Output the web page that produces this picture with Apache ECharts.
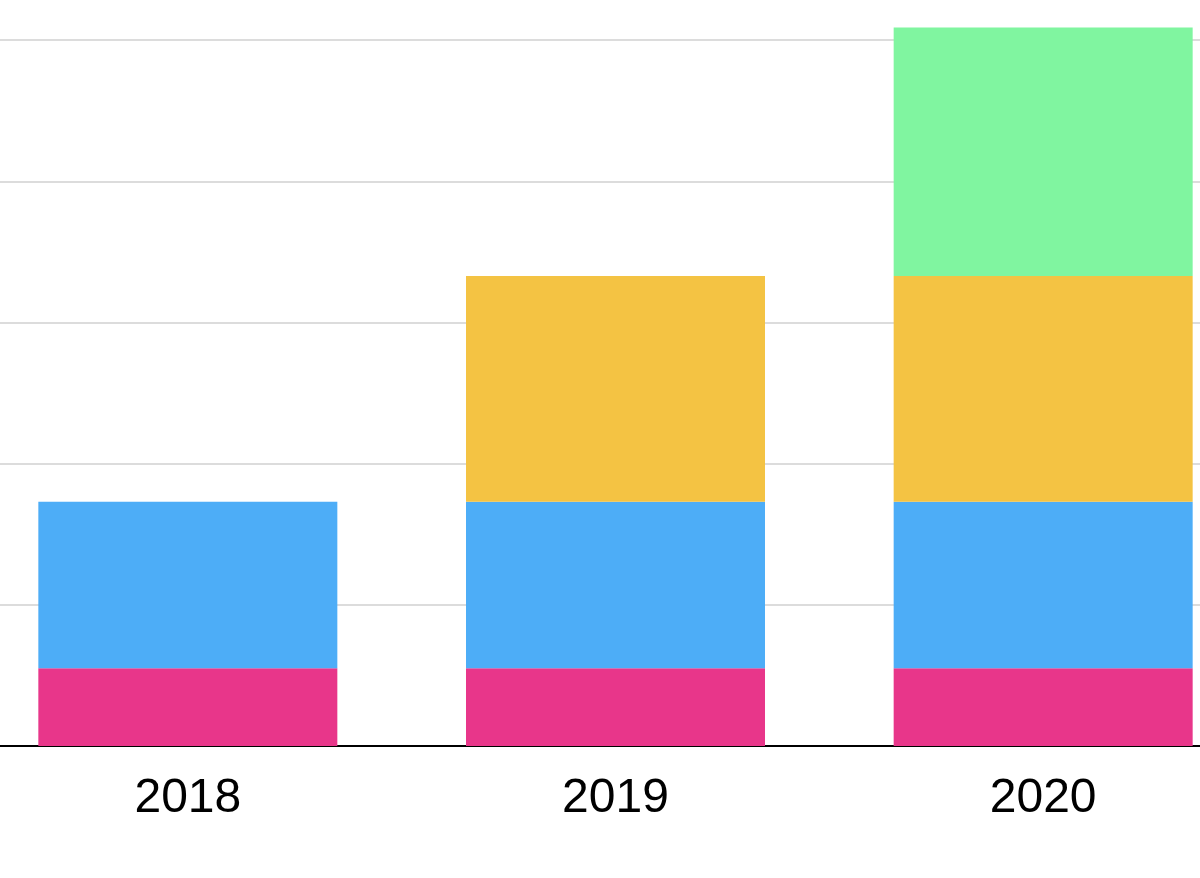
<!DOCTYPE html>
<html><head><meta charset="utf-8">
<script src="https://cdn.jsdelivr.net/npm/echarts@6/dist/echarts.min.js"></script>
<style>html,body{margin:0;padding:0;background:#fff;overflow:hidden;width:1200px;height:878px;position:relative}
#c{position:absolute;left:-26px;top:-101px;width:1283px;height:979px}</style>
</head><body><div id="c"></div>
<script>
const categories = ['2018', '2019', '2020'];
const pinkValues = [55, 55, 55];
const blueValues = [118, 118, 118];
const yellowValues = [null, 160, 160];
const greenValues = [null, null, 176];

const chart = echarts.init(document.getElementById('c'), null, {renderer: 'canvas'});
function s(name, data, color) {
  return {name, type: 'bar', stack: 'total', data, barWidth: 299,
    itemStyle: {color}, emphasis: {disabled: true}};
}
chart.setOption({
  animation: false,
  grid: {left: 0, right: 0, top: 0, bottom: 132, containLabel: false},
  xAxis: {type: 'category', data: categories,
    axisLine: {lineStyle: {color: '#000', width: 2}},
    axisTick: {show: false},
    axisLabel: {color: '#000', fontSize: 48, fontFamily: 'Liberation Sans', margin: 29}},
  yAxis: {type: 'value', min: 0, max: 600, interval: 100,
    axisLabel: {show: false}, axisLine: {show: false}, axisTick: {show: false},
    splitLine: {lineStyle: {color: '#dcdcdc', width: 2}}},
  series: [
    s('A', pinkValues, '#E8368A'),
    s('B', blueValues, '#4DADF7'),
    s('C', yellowValues, '#F4C343'),
    s('D', greenValues, '#80F5A0')
  ]
});
</script></body></html>
